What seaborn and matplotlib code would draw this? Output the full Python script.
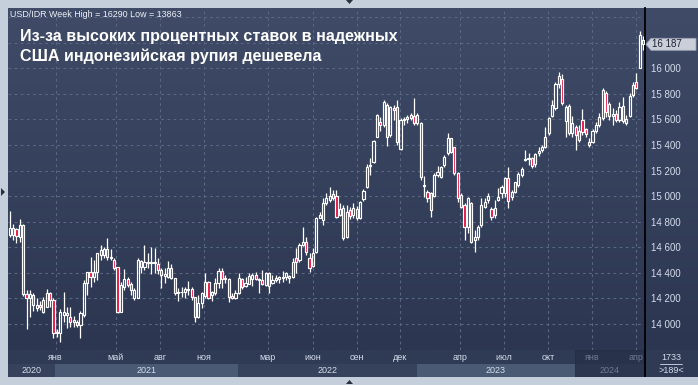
import numpy as np
import pandas as pd
import matplotlib
matplotlib.use("Agg")
import matplotlib.pyplot as plt
import seaborn as sns
from matplotlib.colors import LinearSegmentedColormap
from matplotlib.patches import Rectangle, Polygon

# weekly USD/IDR candles
opens = [14700, 14748, 14740, 14683, 14774, 14232, 14201, 14227, 14128, 14149,
         14096, 14136, 14245, 14188, 13927, 13927, 14070, 14070, 14057, 14013,
         14018, 13992, 14070, 14318, 14404, 14370, 14404, 14540, 14540, 14587,
         14514, 14501, 14448, 14096, 14292, 14352, 14310, 14206, 14206, 14494,
         14448, 14474, 14474, 14488, 14472, 14422, 14378, 14370, 14435, 14362,
         14240, 14248, 14248, 14266, 14274, 14209, 14057, 14162, 14222, 14326,
         14227, 14240, 14318, 14414, 14352, 14352, 14222, 14201, 14240, 14352,
         14300, 14310, 14352, 14383, 14344, 14344, 14305, 14396, 14318, 14344,
         14352, 14362, 14370, 14378, 14370, 14514, 14500, 14618, 14644, 14518,
         14455, 14560, 14831, 14813, 14943, 14969, 14982, 15001, 14852, 14904,
         14683, 14891, 14852, 14896, 14826, 14975, 15068, 15233, 15269, 15465,
         15582, 15556, 15712, 15478, 15686, 15694, 15365, 15595, 15600, 15608,
         15628, 15569, 15569, 15090, 15035, 15022, 15001, 15165, 15147, 15243,
         15334, 15451, 15381, 15183, 15009, 14930, 14761, 14943, 14657, 14683,
         14774, 14917, 14969, 14899, 14852, 14969, 15022, 15022, 15144, 14995,
         15035, 15087, 15165, 15282, 15300, 15295, 15248, 15339, 15360, 15381,
         15490, 15629, 15686, 15874, 15915, 15590, 15707, 15490, 15543, 15438,
         15595, 15524, 15425, 15425, 15509, 15556, 15608, 15803, 15717, 15629,
         15639, 15595, 15707, 15569, 15629, 15790, 15889, 16004, 16220]
highs = [14884, 14779, 14750, 14821, 14779, 14263, 14263, 14240, 14201, 14180,
         14214, 14274, 14253, 14200, 13960, 14117, 14248, 14136, 14136, 14065,
         14031, 14102, 14344, 14404, 14527, 14501, 14553, 14618, 14605, 14675,
         14587, 14514, 14448, 14331, 14430, 14370, 14331, 14279, 14514, 14501,
         14618, 14553, 14605, 14595, 14519, 14435, 14435, 14490, 14466, 14362,
         14284, 14292, 14292, 14336, 14292, 14214, 14227, 14253, 14396, 14336,
         14255, 14362, 14440, 14440, 14383, 14362, 14240, 14266, 14396, 14362,
         14370, 14396, 14396, 14404, 14357, 14422, 14404, 14404, 14383, 14383,
         14378, 14414, 14404, 14383, 14514, 14592, 14631, 14761, 14683, 14553,
         14592, 14839, 14878, 14982, 15022, 15068, 15048, 15048, 14943, 14930,
         14930, 14917, 14943, 14920, 14960, 15053, 15251, 15295, 15438, 15642,
         15621, 15751, 15725, 15704, 15712, 15751, 15608, 15621, 15634, 15647,
         15764, 15647, 15580, 15157, 15048, 15035, 15178, 15235, 15235, 15321,
         15490, 15457, 15386, 15191, 15022, 14943, 14995, 14956, 14735, 14774,
         14982, 14982, 15022, 14917, 14969, 15061, 15087, 15152, 15230, 15048,
         15113, 15191, 15230, 15360, 15334, 15308, 15334, 15386, 15399, 15537,
         15621, 15751, 15894, 15973, 15952, 15712, 15717, 15629, 15556, 15556,
         15681, 15535, 15451, 15524, 15582, 15647, 15847, 15821, 15733, 15686,
         15673, 15733, 15777, 15634, 15803, 15894, 15960, 16290, 16254]
lows = [14680, 14660, 14631, 14644, 14220, 13961, 14057, 14102, 14102, 14110,
        14083, 14136, 14136, 13893, 13900, 13863, 14018, 13966, 13979, 13979,
        13979, 13893, 14057, 14227, 14292, 14331, 14344, 14501, 14519, 14501,
        14501, 14422, 14090, 14096, 14266, 14292, 14227, 14188, 14201, 14396,
        14422, 14435, 14388, 14396, 14388, 14279, 14320, 14357, 14355, 14227,
        14180, 14214, 14206, 14227, 14188, 14018, 14044, 14122, 14206, 14196,
        14180, 14227, 14284, 14284, 14318, 14175, 14196, 14196, 14232, 14274,
        14292, 14310, 14300, 14344, 14240, 14305, 14300, 14240, 14310, 14326,
        14318, 14331, 14344, 14318, 14362, 14396, 14488, 14612, 14540, 14409,
        14448, 14555, 14826, 14774, 14930, 14956, 14969, 14826, 14844, 14657,
        14670, 14818, 14826, 14813, 14820, 14964, 15061, 15165, 15262, 15459,
        15511, 15543, 15392, 15465, 15595, 15399, 15360, 15556, 15569, 15595,
        15560, 15556, 15126, 14995, 14956, 14834, 14995, 15147, 15140, 15225,
        15321, 15334, 15165, 14956, 14904, 14657, 14709, 14631, 14565, 14657,
        14761, 14904, 14943, 14813, 14826, 14960, 14982, 14995, 14909, 14969,
        15022, 15074, 15152, 15274, 15243, 15217, 15225, 15313, 15347, 15373,
        15477, 15621, 15673, 15842, 15712, 15460, 15477, 15464, 15360, 15425,
        15477, 15464, 15386, 15412, 15490, 15543, 15595, 15621, 15595, 15556,
        15582, 15582, 15569, 15556, 15621, 15777, 15837, 15999, 16142]
closes = [14748, 14700, 14691, 14774, 14232, 14201, 14232, 14149, 14149, 14136,
          14188, 14245, 14188, 13927, 13935, 14096, 14096, 14083, 14013, 14031,
          13992, 14083, 14323, 14404, 14370, 14404, 14553, 14579, 14587, 14527,
          14527, 14435, 14096, 14305, 14352, 14305, 14266, 14266, 14501, 14448,
          14482, 14488, 14488, 14474, 14422, 14383, 14388, 14440, 14362, 14240,
          14253, 14253, 14274, 14274, 14214, 14057, 14162, 14240, 14326, 14206,
          14248, 14318, 14417, 14352, 14357, 14214, 14206, 14240, 14357, 14292,
          14318, 14378, 14383, 14352, 14352, 14310, 14396, 14300, 14344, 14357,
          14370, 14370, 14396, 14362, 14482, 14482, 14618, 14638, 14566, 14435,
          14553, 14831, 14852, 14943, 14982, 15001, 15014, 14839, 14896, 14670,
          14878, 14844, 14904, 14826, 14954, 15040, 15230, 15241, 15431, 15634,
          15556, 15738, 15465, 15694, 15673, 15425, 15595, 15600, 15616, 15634,
          15569, 15634, 15147, 15079, 14982, 14891, 15165, 15191, 15230, 15308,
          15451, 15347, 15178, 14982, 14912, 14761, 14982, 14644, 14683, 14761,
          14930, 14956, 15003, 14839, 14904, 14995, 15074, 15139, 14962, 15035,
          15108, 15170, 15212, 15290, 15290, 15238, 15326, 15352, 15386, 15459,
          15613, 15712, 15874, 15941, 15725, 15700, 15490, 15569, 15477, 15509,
          15498, 15483, 15399, 15509, 15556, 15621, 15829, 15655, 15629, 15639,
          15595, 15699, 15587, 15600, 15785, 15868, 15842, 16259, 16187]

price_ticks = [14000, 14200, 14400, 14600, 14800, 15000, 15200, 15400, 15600, 15800, 16000]
month_labels = ["янв", "май", "авг", "ноя", "мар", "июн", "сен", "дек",
                "апр", "июл", "окт", "янв", "апр"]
year_labels = ["2020", "2021", "2022", "2023", "2024"]
last_price = 16187
header = "USD/IDR Week High = 16290 Low = 13863"
title_1 = "Из-за высоких процентных ставок в надежных"
title_2 = "США индонезийская рупия дешевела"

df = pd.DataFrame({"open": opens, "high": highs, "low": lows, "close": closes})
df["x"] = np.arange(len(df))
df["up"] = df["close"] >= df["open"]

# layout in pixels of the 698x385 picture
W, H = 698, 385
month_px = [55.7, 115.7, 160.3, 204, 268, 313, 357, 400, 460, 504, 548, 592, 636]
year_px = [(8, 55), (55, 238), (238, 417), (417, 575), (575, 645)]
x0_px, step_px = 9.7, 3.369


def fx(px):
    return px / W


def fy(py):
    return 1 - py / H


def to_idx(px):
    return (px - x0_px) / step_px


sns.set_theme(style="dark")
plt.rcParams["font.family"] = ["Liberation Sans", "DejaVu Sans"]

frame_c = "#c4cfdb"
top_c, bot_c = "#3f4b67", "#2c3651"
grid_c = "#5a6782"
label_c = "#d3ddec"
red_c = "#e3103c"

fig = plt.figure(figsize=(W / 100, H / 100), dpi=100, facecolor=frame_c)

# gradient behind plot and price scale
bg = fig.add_axes([fx(8), fy(350), fx(698) - fx(8), fy(8) - fy(350)])
grad = np.linspace(0, 1, 256).reshape(-1, 1)
bg.imshow(grad, aspect="auto", cmap=LinearSegmentedColormap.from_list("bg", [top_c, bot_c]),
          extent=[0, 1, 0, 1])
bg.set_axis_off()

ax = fig.add_axes([fx(8), fy(350), fx(645) - fx(8), fy(8) - fy(350)])
ax.set_facecolor("none")
ax.set_xlim(to_idx(8), to_idx(645))
ax.set_ylim(13797, 16471)

# grid
for v in range(14000, 16401, 200):
    ax.axhline(v, color=grid_c, lw=0.8, ls=(0, (2.5, 3)), zorder=1)
for p in month_px:
    ax.axvline(to_idx(p), color=grid_c, lw=0.8, ls=(0, (2.5, 3)), zorder=1)

# wicks
body_top = df[["open", "close"]].max(axis=1)
body_bot = df[["open", "close"]].min(axis=1)
ax.vlines(df["x"], body_top, df["high"], color="white", lw=0.9, zorder=2)
ax.vlines(df["x"], df["low"], body_bot, color="white", lw=0.9, zorder=2)

# bodies
heights = (body_top - body_bot).clip(lower=4)
ax.bar(df["x"], heights, bottom=body_bot, width=0.64,
       color=np.where(df["up"], "none", red_c), edgecolor="white", linewidth=0.85, zorder=3)

ax.grid(False)
ax.set_xticks([])
ax.yaxis.tick_right()
ax.set_yticks(price_ticks)
ax.set_yticklabels([f"{t:,}".replace(",", " ") for t in price_ticks])
ax.tick_params(axis="y", length=0, pad=4, labelsize=7, labelcolor=label_c)
for s in ["top", "left", "bottom"]:
    ax.spines[s].set_visible(False)
ax.spines["right"].set_color("black")
ax.spines["right"].set_linewidth(1.3)

# last price marker
tag_y = ax.transData.transform((0, last_price))[1]
tag_py = H - tag_y
fig.patches.append(Polygon([(fx(646), fy(tag_py)), (fx(651), fy(tag_py - 6)), (fx(696), fy(tag_py - 6)),
                            (fx(696), fy(tag_py + 6)), (fx(651), fy(tag_py + 6))],
                           closed=True, transform=fig.transFigure, facecolor="#c9ced8",
                           edgecolor="#9aa3b3", lw=0.6, zorder=5))
fig.text(fx(652), fy(tag_py), f"{last_price:,}".replace(",", " "), fontsize=7, color="#1c2233",
         va="center", ha="left", zorder=6)

# texts
fig.text(fx(10), fy(10), header, fontsize=6.4, color="#eef2f8", va="top", ha="left")
fig.text(fx(20), fy(29), title_1, fontsize=11.6, fontweight="bold", color="white", va="top", ha="left")
fig.text(fx(20), fy(49), title_2, fontsize=11.6, fontweight="bold", color="white", va="top", ha="left")

# time scale panel
bot = fig.add_axes([fx(8), fy(377), fx(698) - fx(8), fy(350) - fy(377)])
bot.set_xlim(8, 698)
bot.set_ylim(377, 350)
bot.set_axis_off()
bot.add_patch(Rectangle((8, 350), 637, 14, facecolor="#2f3a55", edgecolor="none"))
bot.add_patch(Rectangle((8, 364), 637, 13, facecolor="#36425c", edgecolor="none"))
for k, (a, b) in enumerate(year_px):
    if k in (1, 3):
        bot.add_patch(Rectangle((a, 364), b - a, 13, facecolor="#4b5a74", edgecolor="none"))
bot.add_patch(Rectangle((645, 350), 53, 27, facecolor="#2f3a55", edgecolor="none"))
bot.plot([645, 645], [350, 377], color="black", lw=1.3)
for lab, p in zip(month_labels, month_px):
    c = "#6f7b93" if p > 575 else label_c
    bot.text(p, 357, lab, fontsize=6.5, color=c, ha="center", va="center")
for lab, (a, b) in zip(year_labels, year_px):
    c = "#6f7b93" if a >= 575 else label_c
    bot.text((a + b) / 2, 370.5, lab, fontsize=6.5, color=c, ha="center", va="center")
bot.add_patch(Rectangle((575, 350), 70, 27, facecolor="#1c2438", alpha=0.35, edgecolor="#1c2438", lw=0.8))
bot.text(671, 357, "1733", fontsize=6.5, color=label_c, ha="center", va="center")
bot.plot([660, 682], [364, 364], color=label_c, lw=0.6)
bot.text(671, 370.5, ">189<", fontsize=6.5, color=label_c, ha="center", va="center")

# frame arrows
for pts in ([(346, 0), (353, 0), (349.5, 4)], [(1, 188), (1, 196), (5, 192)],
            [(346, 384), (353, 384), (349.5, 380)]):
    fig.patches.append(Polygon([(fx(a), fy(b)) for a, b in pts], closed=True,
                               transform=fig.transFigure, facecolor="#2a3040", edgecolor="none"))

fig.savefig("out.png", dpi=100, facecolor=frame_c)
